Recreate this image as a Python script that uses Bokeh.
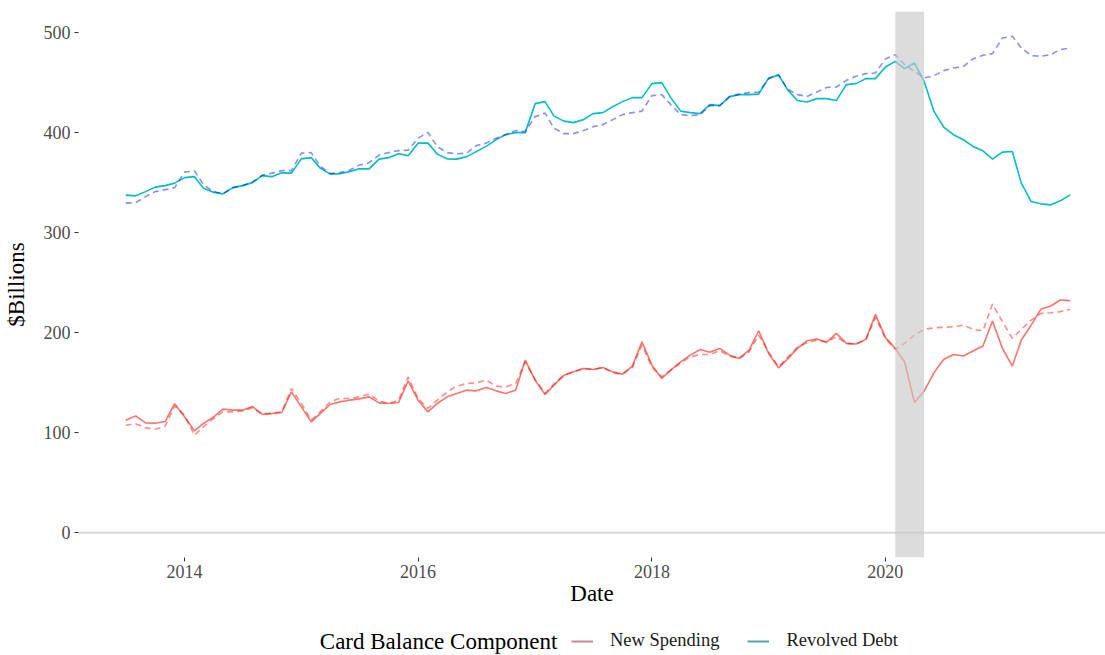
import pandas as pd
from bokeh.plotting import figure
from bokeh.layouts import column
from bokeh.models import (Range1d, FixedTicker, DatetimeTickFormatter, BoxAnnotation,
                          Span, Legend, LegendItem, Label)
from bokeh.embed import file_html
from bokeh.resources import INLINE

# ---------------- data ----------------
start_month = "2013-07-01"
n_months = 98
dates = pd.date_range(start_month, periods=n_months, freq="MS")

new_spending = [
    112.5, 116.8, 109.8, 109.5, 111.1, 129.0, 115.8, 101.8, 109.2, 115.6,
    123.5, 122.5, 122.5, 126.2, 118.2, 119.0, 120.2, 140.8, 125.8, 110.8,
    119.0, 128.2, 130.8, 132.5, 133.8, 135.8, 129.8, 129.2, 130.2, 151.8,
    132.5, 120.8, 129.2, 135.8, 139.2, 142.5, 141.8, 145.2, 141.8, 139.2,
    142.5, 172.5, 152.5, 138.2, 147.5, 157.5, 160.8, 164.2, 163.2, 165.2,
    160.8, 158.5, 166.5, 190.9, 167.5, 154.2, 162.5, 170.8, 177.5, 183.2,
    180.5, 184.2, 177.5, 174.2, 182.5, 201.9, 179.2, 164.8, 173.5, 184.3,
    191.9, 193.6, 190.2, 199.3, 189.3, 188.6, 193.3, 218.3, 195.3, 184.3,
    170.9, 130.2, 141.5, 159.9, 173.2, 178.2, 176.6, 181.6, 186.6, 211.6,
    184.3, 166.6, 192.6, 207.6, 223.3, 226.6, 232.6, 232.0,
]
new_spending_trend = [
    107.5, 109.0, 104.8, 103.4, 106.4, 126.5, 117.5, 97.4, 105.8, 114.1,
    120.8, 120.8, 121.8, 124.8, 118.5, 119.8, 120.8, 144.2, 129.0, 112.5,
    120.8, 130.8, 134.2, 134.2, 135.8, 138.5, 131.8, 129.2, 132.5, 155.8,
    134.2, 124.2, 132.5, 140.8, 146.5, 149.2, 149.8, 152.5, 146.5, 145.8,
    149.2, 170.8, 153.2, 139.2, 148.5, 157.5, 160.8, 164.2, 163.2, 165.2,
    159.8, 158.5, 165.2, 187.6, 165.8, 155.8, 162.5, 169.8, 175.8, 178.2,
    178.2, 181.9, 176.5, 174.2, 180.8, 197.6, 180.8, 165.8, 175.0, 185.3,
    189.9, 192.6, 190.9, 195.9, 189.3, 188.6, 192.6, 215.3, 194.3, 183.3,
    189.3, 197.6, 203.3, 204.9, 205.3, 205.9, 207.6, 203.3, 201.9, 228.6,
    211.0, 194.3, 203.3, 212.6, 219.3, 219.9, 221.0, 223.3,
]
revolved_debt = [
    337.5, 336.8, 341.0, 345.5, 347.0, 349.5, 355.0, 356.0, 344.5, 340.5,
    338.8, 345.0, 347.0, 350.0, 357.0, 356.0, 359.8, 359.5, 373.8, 375.0,
    364.5, 358.8, 358.8, 361.0, 363.8, 363.8, 373.5, 375.0, 378.8, 377.0,
    389.5, 389.5, 378.5, 373.8, 373.5, 376.0, 381.0, 386.3, 393.0, 398.0,
    400.0, 400.0, 429.0, 431.0, 416.5, 411.5, 410.0, 413.0, 419.0, 420.0,
    426.0, 431.0, 435.0, 435.0, 449.0, 450.0, 435.0, 421.5, 420.0, 419.0,
    428.0, 427.0, 436.0, 438.0, 438.0, 438.5, 454.5, 457.5, 443.0, 432.2,
    430.6, 434.0, 434.0, 432.2, 448.0, 449.0, 454.0, 454.0, 465.6, 471.3,
    464.0, 469.6, 451.3, 421.2, 405.6, 397.9, 392.9, 386.2, 381.8, 373.5,
    380.5, 381.2, 349.5, 331.1, 328.8, 327.8, 331.8, 337.8,
]
revolved_debt_trend = [
    329.5, 330.0, 336.0, 341.0, 343.0, 345.0, 360.5, 361.8, 348.0, 341.0,
    339.0, 345.0, 347.0, 350.5, 357.5, 359.5, 362.0, 362.0, 379.5, 380.0,
    366.5, 359.0, 360.0, 362.5, 367.5, 370.0, 377.5, 380.0, 382.0, 382.5,
    394.5, 400.2, 386.0, 380.0, 378.8, 379.5, 387.0, 389.5, 394.5, 398.0,
    402.0, 401.0, 416.0, 419.5, 404.5, 399.0, 399.0, 402.0, 406.0, 408.0,
    413.0, 418.0, 420.0, 421.5, 437.0, 438.0, 428.0, 418.0, 417.0, 418.0,
    427.0, 427.0, 436.0, 438.5, 440.0, 440.5, 454.0, 458.0, 443.6, 438.0,
    436.2, 440.6, 445.2, 445.6, 452.3, 456.3, 459.0, 459.6, 473.7, 478.0,
    468.0, 461.3, 454.6, 457.0, 462.0, 464.6, 466.3, 473.7, 477.3, 479.0,
    494.7, 496.3, 484.7, 477.0, 476.3, 478.0, 483.0, 484.7,
]

recession_start = "2020-02-01"
recession_end = "2020-05-01"
x_tick_years = [2014, 2016, 2018, 2020]
y_ticks = [0, 100, 200, 300, 400, 500]
series_names = ["New Spending", "Revolved Debt"]
legend_title = "Card Balance Component"
x_title = "Date"
y_title = "$Billions"

# ---------------- styling ----------------
FONT = "Liberation Serif"
RED = "#F8766D"
TEAL = "#00BFC4"
W = 1105
MAIN_H = 609
LEG_H = 46
FRAME_L = 75
FRAME_W = W - FRAME_L          # 1030
FULL_PANEL_W = 1042            # panel width incl. the part beyond the window

# ggplot-like 5% expansion
t0, t1 = dates[0], dates[-1]
pad = (t1 - t0) * 0.05
x_start = t0 - pad
x_end_full = t1 + pad
x_end = x_start + (x_end_full - x_start) * (FRAME_W / FULL_PANEL_W)

all_vals = new_spending + new_spending_trend + revolved_debt + revolved_debt_trend
ymax = max(all_vals)
ypad = 0.05 * (ymax - 0)

p = figure(width=W, height=MAIN_H, x_axis_type="datetime",
           x_range=Range1d(x_start.to_pydatetime(), x_end.to_pydatetime()),
           y_range=Range1d(0 - ypad, ymax + ypad),
           output_backend="svg", toolbar_location=None,
           min_border_left=FRAME_L, min_border_right=0, min_border_top=11,
           min_border_bottom=52)
p.outline_line_color = None
p.xgrid.visible = False
p.ygrid.visible = False
p.background_fill_color = "white"

p.add_layout(Span(location=0, dimension="width", line_color="#d9d9d9",
                  line_width=2, level="underlay"))

src_dates = list(dates)
p.line(src_dates, revolved_debt, line_color=TEAL, line_width=1.6)
p.line(src_dates, new_spending, line_color=RED, line_width=1.6)
p.line(src_dates, revolved_debt_trend, line_color="#0000ff", line_alpha=0.45,
       line_width=1.6, line_dash="6 4")
p.line(src_dates, new_spending_trend, line_color="#ff0000", line_alpha=0.45,
       line_width=1.6, line_dash="6 4")

p.add_layout(BoxAnnotation(left=pd.Timestamp(recession_start).to_pydatetime(),
                           right=pd.Timestamp(recession_end).to_pydatetime(),
                           fill_color="#c8c8c8", fill_alpha=0.64, line_color=None))

# axes
tick_ms = [pd.Timestamp(f"{y}-01-01").timestamp() * 1000 for y in x_tick_years]
p.xaxis.ticker = FixedTicker(ticks=tick_ms)
p.xaxis.formatter = DatetimeTickFormatter(years="%Y", months="%Y", days="%Y",
                                          hours="%Y", minutes="%Y", seconds="%Y",
                                          milliseconds="%Y", microseconds="%Y")
p.yaxis.ticker = FixedTicker(ticks=y_ticks)
for ax in (p.xaxis, p.yaxis):
    ax.axis_line_color = None
    ax.major_tick_line_color = "#333333"
    ax.major_tick_out = 4
    ax.major_tick_in = 0
    ax.minor_tick_line_color = None
    ax.major_label_text_font = FONT
    ax.major_label_text_font_size = "18px"
    ax.major_label_text_color = "#4d4d4d"
    ax.axis_label_text_font = FONT
    ax.axis_label_text_font_size = "23px"
    ax.axis_label_text_font_style = "normal"
    ax.axis_label_text_color = "#000000"
p.xaxis.axis_label = x_title
p.yaxis.axis_label = y_title
p.xaxis.major_label_standoff = 3
p.xaxis.axis_label_standoff = 0
p.yaxis.major_label_standoff = 4
p.yaxis.axis_label_standoff = 12

# ---------------- legend row (frame aligned with the main plot) ----------------
q = figure(width=W, height=LEG_H, x_range=Range1d(0, FRAME_W), y_range=Range1d(0, LEG_H),
           output_backend="svg", toolbar_location=None,
           x_axis_location=None, y_axis_location=None,
           min_border_left=FRAME_L, min_border_right=0, min_border_top=0,
           min_border_bottom=0)
q.outline_line_color = None
q.grid.visible = False
q.background_fill_color = "white"

nan = float("nan")
sw_ns = q.line([nan], [nan], line_color="#c98c88", line_width=2)
sw_rd = q.line([nan], [nan], line_color="#55a2ae", line_width=2)
legend = Legend(items=[LegendItem(label=series_names[0], renderers=[sw_ns]),
                       LegendItem(label=series_names[1], renderers=[sw_rd])],
                orientation="horizontal", location=(568 - FRAME_L, 4),
                label_text_font=FONT, label_text_font_size="18.5px",
                label_text_color="#1a1a1a",
                glyph_width=22, glyph_height=20, label_standoff=17, spacing=28,
                padding=0, margin=0, border_line_color=None,
                background_fill_alpha=0)
q.add_layout(legend, "center")
q.add_layout(Label(x=317 - FRAME_L, y=14, text=legend_title, text_font=FONT,
                   text_font_size="23px", text_color="#000000",
                   text_align="left", text_baseline="middle"))

layout = column(p, q, spacing=0)
open("out.html", "w").write(file_html(layout, INLINE))
